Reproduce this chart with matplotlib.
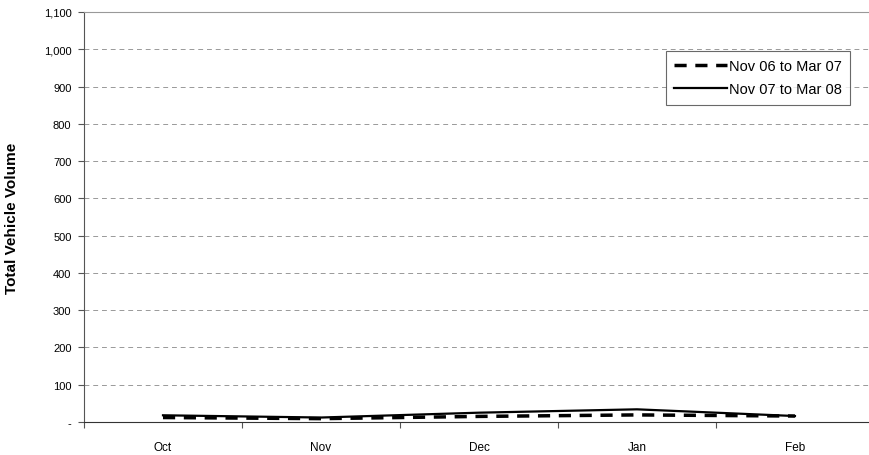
import matplotlib.pyplot as plt
from matplotlib.ticker import FuncFormatter

plt.rcParams['font.family'] = ['Liberation Sans', 'DejaVu Sans']

months = ["Oct", "Nov", "Dec", "Jan", "Feb"]
season_0607 = [12, 9, 15, 19, 16]
season_0708 = [18, 12, 25, 34, 16]
yticks = list(range(0, 1101, 100))

fig = plt.figure(figsize=(8.7, 4.56), dpi=100)
ax = fig.add_axes([84 / 870, 33 / 456, 786 / 870, 410 / 456])

x = range(len(months))
ax.plot(x, season_0607, color="black", lw=2.5, dashes=(3.5, 2.5), label="Nov 06 to Mar 07")
ax.plot(x, season_0708, color="black", lw=1.6, label="Nov 07 to Mar 08")

ax.set_xlim(-0.5, 4.475)
ax.set_ylim(0, 1100)
ax.set_yticks(yticks)
ax.yaxis.set_major_formatter(FuncFormatter(lambda v, p: "-" if v == 0 else f"{int(v):,}"))
ax.set_xticks(x)
ax.set_xticklabels(months)
ax.set_xticks([i + 0.5 for i in range(-1, 4)], minor=True)
ax.tick_params(axis="x", which="major", length=0, pad=14, labelsize=8.5)
ax.tick_params(axis="x", which="minor", length=4, width=0.8, color="#555555")
ax.tick_params(axis="y", length=4, width=0.8, color="#555555", labelsize=8, pad=5)

ax.grid(axis="y", color="#999999", ls=(0, (5, 4)), lw=0.7)
ax.spines["right"].set_visible(False)
ax.spines["top"].set_color("#999999")
ax.spines["top"].set_linewidth(0.8)
ax.spines["left"].set_color("#555555")
ax.spines["bottom"].set_color("#333333")

ax.set_ylabel("Total Vehicle Volume", fontsize=11, fontweight="bold", labelpad=18)

leg = ax.legend(loc="upper right", bbox_to_anchor=(850 / 870, 1 - 52 / 456),
                bbox_transform=fig.transFigure, fontsize=10.5, frameon=True,
                fancybox=False, edgecolor="#444444", handlelength=3.6,
                handletextpad=0.15, borderpad=0.55, labelspacing=0.65,
                borderaxespad=0)
leg.get_frame().set_linewidth(0.8)

fig.savefig("out.png", dpi=100)
